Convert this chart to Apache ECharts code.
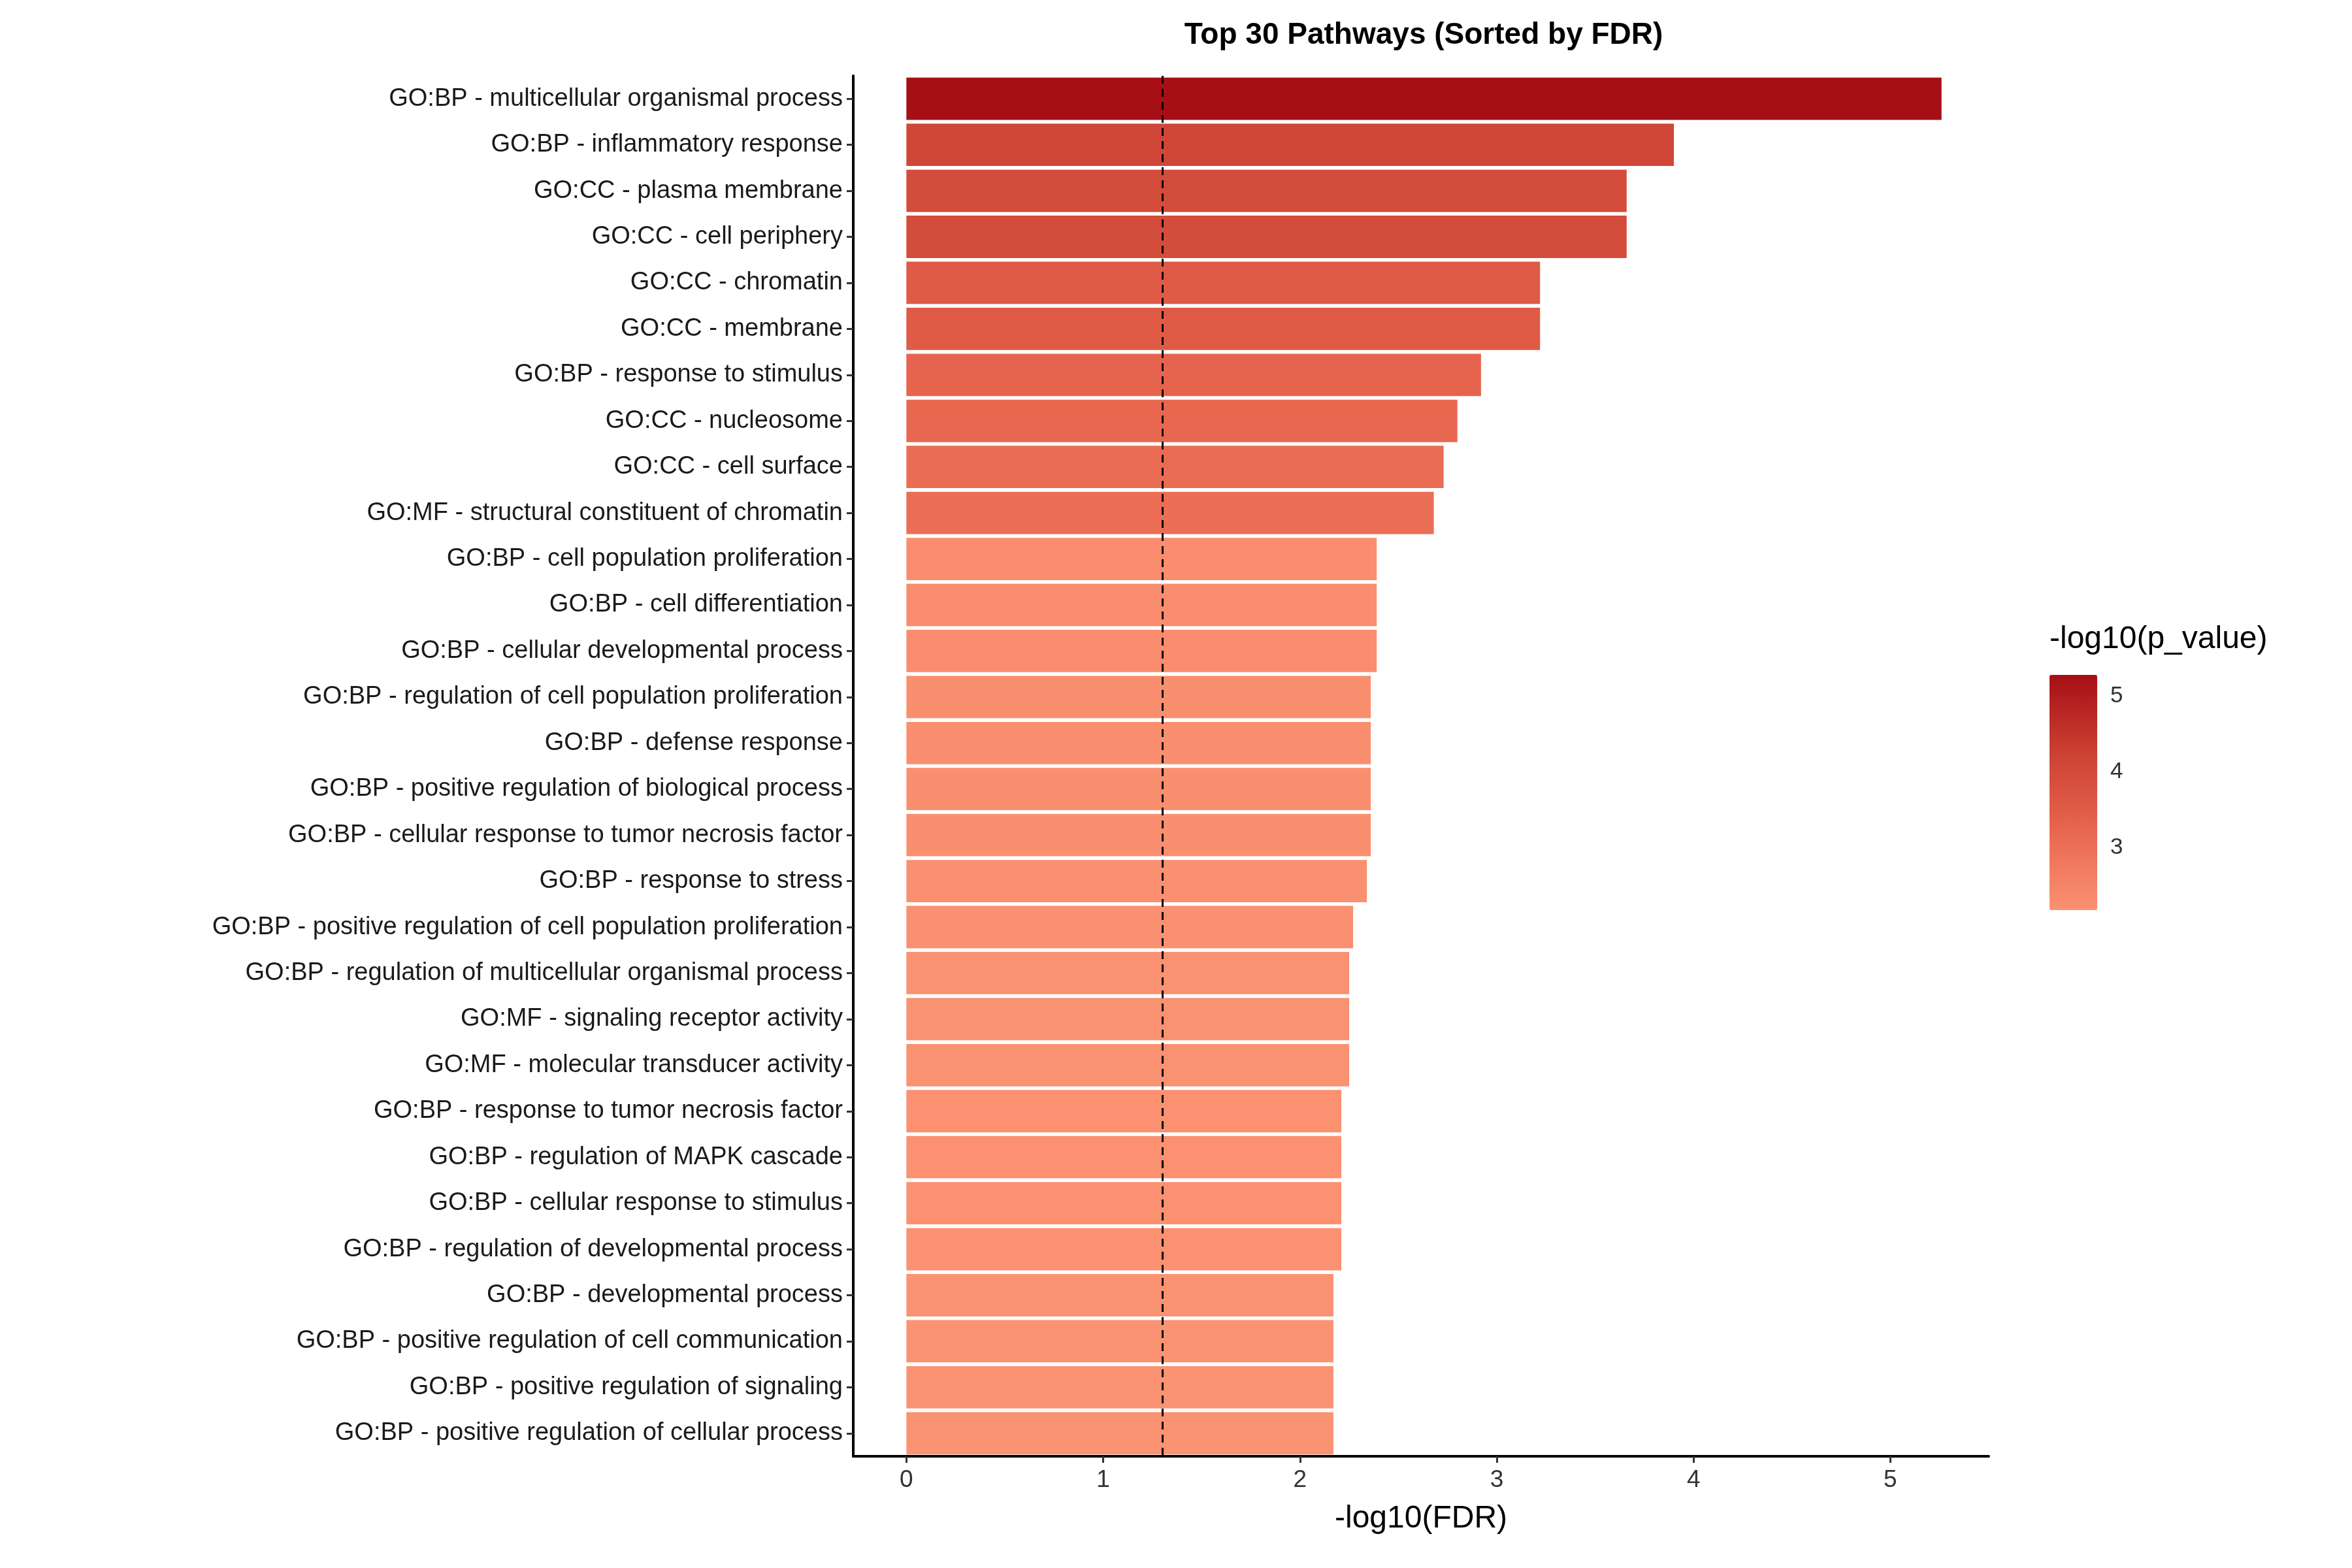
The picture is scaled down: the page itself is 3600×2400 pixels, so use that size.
<!DOCTYPE html>
<html><head><meta charset="utf-8">
<script src="https://cdn.jsdelivr.net/npm/echarts@6/dist/echarts.min.js"></script>
<style>html,body{margin:0;background:#fff}#c{width:3600px;height:2400px}</style>
</head><body><div id="c"></div>
<script>
// top to bottom
var pathways = ['GO:BP - multicellular organismal process','GO:BP - inflammatory response','GO:CC - plasma membrane','GO:CC - cell periphery','GO:CC - chromatin','GO:CC - membrane','GO:BP - response to stimulus','GO:CC - nucleosome','GO:CC - cell surface','GO:MF - structural constituent of chromatin','GO:BP - cell population proliferation','GO:BP - cell differentiation','GO:BP - cellular developmental process','GO:BP - regulation of cell population proliferation','GO:BP - defense response','GO:BP - positive regulation of biological process','GO:BP - cellular response to tumor necrosis factor','GO:BP - response to stress','GO:BP - positive regulation of cell population proliferation','GO:BP - regulation of multicellular organismal process','GO:MF - signaling receptor activity','GO:MF - molecular transducer activity','GO:BP - response to tumor necrosis factor','GO:BP - regulation of MAPK cascade','GO:BP - cellular response to stimulus','GO:BP - regulation of developmental process','GO:BP - developmental process','GO:BP - positive regulation of cell communication','GO:BP - positive regulation of signaling','GO:BP - positive regulation of cellular process'];
var fdr = [5.26,3.90,3.66,3.66,3.22,3.22,2.92,2.80,2.73,2.68,2.39,2.39,2.39,2.36,2.36,2.36,2.36,2.34,2.27,2.25,2.25,2.25,2.21,2.21,2.21,2.21,2.17,2.17,2.17,2.17];
var pval = [5.28,4.10,3.95,3.95,3.55,3.55,3.30,3.20,3.10,3.05,2.30,2.30,2.30,2.26,2.26,2.26,2.26,2.24,2.22,2.21,2.21,2.21,2.20,2.20,2.20,2.20,2.18,2.18,2.18,2.18];
var legendTicks = [3, 4, 5];

var font = 'Liberation Sans, Arial, sans-serif';
var chart = echarts.init(document.getElementById('c'));
chart.setOption({
  backgroundColor: '#fff',
  animation: false,
  textStyle: {fontFamily: font},
  title: [{text: 'Top 30 Pathways (Sorted by FDR)', left: 2174, top: 26, textAlign: 'center',
    textStyle: {fontSize: 46, fontWeight: 'bold', color: '#000'}},
    {text: '-log10(p_value)', left: 3132, top: 950, textStyle: {fontSize: 48, fontWeight: 'normal', color: '#000'}}],
  grid: [{left: 1306, right: 556, top: 116, bottom: 171},
         {left: 3137, width: 73, top: 1033, height: 360}],
  xAxis: [{type: 'value', min: -0.27, max: 5.5, interval: 1, gridIndex: 0,
    axisLine: {show: true, onZero: false, lineStyle: {color: '#000', width: 4}},
    axisTick: {show: true, length: 10, lineStyle: {color: '#333', width: 3}, customValues: [0,1,2,3,4,5]},
    axisLabel: {fontSize: 37, color: '#333', margin: 18, customValues: [0,1,2,3,4,5]},
    splitLine: {show: false},
    name: '-log10(FDR)', nameLocation: 'middle', nameGap: 72, nameTextStyle: {fontSize: 48, color: '#000'}},
    {gridIndex: 1, type: 'value', show: false}],
  yAxis: [{type: 'category', data: pathways, inverse: true, gridIndex: 0,
    axisLine: {show: true, onZero: false, lineStyle: {color: '#000', width: 4}},
    axisTick: {show: true, length: 10, alignWithLabel: true, lineStyle: {color: '#333', width: 3}},
    axisLabel: {fontSize: 38, color: '#1a1a1a', margin: 16}},
    {type: 'value', gridIndex: 1, min: 2.18, max: 5.28, position: 'right',
     axisLine: {show: false, onZero: false}, axisTick: {show: false}, splitLine: {show: false},
     axisLabel: {fontSize: 35, color: '#333', margin: 20, customValues: legendTicks}}],
  visualMap: {type: 'continuous', min: 2.18, max: 5.28, dimension: 2, seriesIndex: 0,
    inRange: {color: ['#fb9272', '#e8674f', '#cc4133', '#a50f15']},
    left: 3137, top: 1033, padding: 0, itemWidth: 73, itemHeight: 360, calculable: false,
    text: null, showLabel: false, hoverLink: false},
  series: [{type: 'bar', xAxisIndex: 0, yAxisIndex: 0, barCategoryGap: '8%',
    data: fdr.map(function (v, i) { return [v, pathways[i], pval[i]]; }),
    encode: {x: 0, y: 1},
    markLine: {silent: true, symbol: 'none', label: {show: false},
      lineStyle: {type: [12, 8], color: '#000', width: 3}, data: [{xAxis: 1.3}]}}]
});
</script></body></html>
